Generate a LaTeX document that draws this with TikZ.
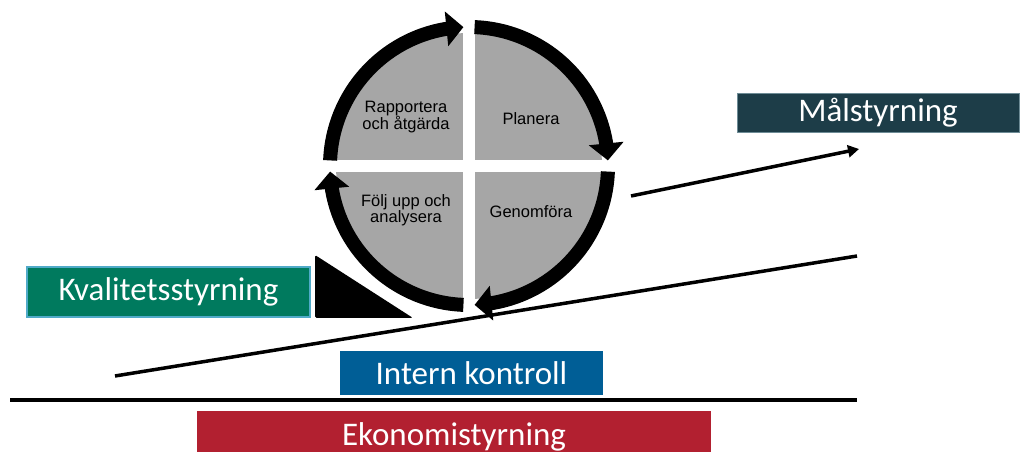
\documentclass[tikz,border=0pt]{standalone}
\usepackage{fontspec}
\setmainfont{Liberation Sans}
\newfontfamily\calibri{Carlito}
\usetikzlibrary{arrows.meta,bending}

\definecolor{kvalgreen}{RGB}{0,122,94}
\definecolor{kvalrand}{RGB}{80,170,200}
\definecolor{internblue}{RGB}{0,94,150}
\definecolor{ekonred}{RGB}{178,32,48}
\definecolor{malteal}{RGB}{29,61,72}
\definecolor{malrand}{RGB}{110,140,150}
\definecolor{hjulgray}{RGB}{166,166,166}

\tikzset{
	fas/.style={align=center, inner sep=0pt, font=\fontsize{16.5}{16}\selectfont},
	band/.style={fill=#1, text=white, inner sep=0pt, font=\calibri\fontsize{33}{36}\selectfont},
	ring/.style={line width=14pt, -{Triangle[length=17pt,width=34pt]}},
	linje/.style={line width=3.5pt},
}

\begin{document}
\begin{tikzpicture}[x=1pt,y=1pt]
	\useasboundingbox (0,0) rectangle (1022,452);
	% The wheel
	\begin{scope}[shift={(469,286)}]
		\coordinate (hjul) at (0,0);
		\fill[hjulgray] (hjul) circle (133);
		\draw[white, line width=12pt] (-136,0) -- (136,0);
		\draw[white, line width=12pt] (0,-136) -- (0,136);
		\foreach \s in {177.7, 87.7, -2.3, -92.3}{
			\draw[ring] (\s:139) arc[start angle=\s, end angle={\s-85.4}, radius=139];
		}
	\end{scope}
	\path (406,335) node (rapp) [fas] {Rapportera\\och åtgärda};
	\path (531,333) node (plan) [fas] {Planera};
	\path (406,242) node (folj) [fas] {Följ upp och\\analysera};
	\path (531,240) node (genom) [fas] {Genomföra};
	% Wedge under the wheel
	\fill[rounded corners=1.5pt] (315,197) -- (315,134) -- (413,134) -- cycle;
	% Ground and slope
	\coordinate (grund-v) at (10,52);
	\coordinate (grund-h) at (857,52);
	\coordinate (ramp-v) at (115,76);
	\coordinate (ramp-h) at (857,196);
	\coordinate (mal-fran) at (631,256);
	\coordinate (mal-till) at (859,303);
	\draw[linje, line width=4pt] (grund-v) -- (grund-h);
	\draw[linje] (ramp-v) -- (ramp-h);
	\draw[linje, -{Triangle[length=11pt,width=12pt]}] (mal-fran) -- (mal-till);
	% Labels
	\path (168.5,160) node (kval) [band=kvalgreen, draw=kvalrand, line width=1.2pt, minimum width=283, minimum height=50] {Kvalitetsstyrning};
	\path (471.5,79) node (intern) [band=internblue, minimum width=263, minimum height=44] {Intern kontroll};
	\path (454,15.5) node (ekon) [band=ekonred, minimum width=514, minimum height=51] {Ekonomistyrning};
	\path (878,339.5) node (mal) [band=malteal, draw=malrand, line width=0.8pt, minimum width=282, minimum height=39] {Målstyrning};
\end{tikzpicture}
\end{document}
